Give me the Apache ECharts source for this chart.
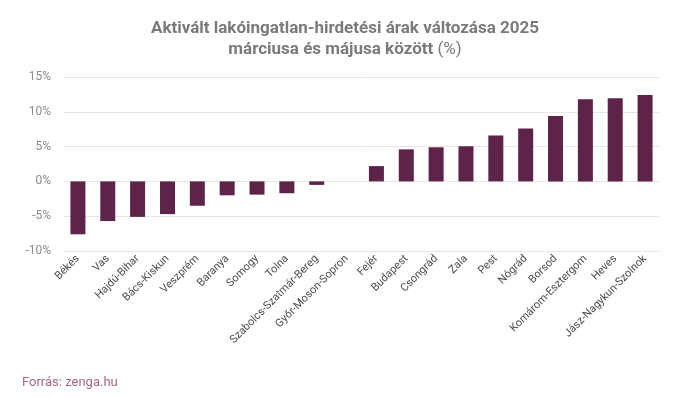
<!DOCTYPE html>
<html>
<head>
<meta charset="utf-8">
<script src="https://cdn.jsdelivr.net/npm/echarts@6/dist/echarts.min.js"></script>
<style>
  html, body { margin: 0; padding: 0; background: #fff; }
  #chart { width: 690px; height: 397px; }
</style>
</head>
<body>
<div id="chart"></div>
<script>
// megyék (kategóriák)
const counties = [
  'Békés', 'Vas', 'Hajdú-Bihar', 'Bács-Kiskun', 'Veszprém', 'Baranya', 'Somogy', 'Tolna',
  'Szabolcs-Szatmár-Bereg', 'Győr-Moson-Sopron', 'Fejér', 'Budapest', 'Csongrád', 'Zala',
  'Pest', 'Nógrád', 'Borsod', 'Komárom-Esztergom', 'Heves', 'Jász-Nagykun-Szolnok'
];
// árváltozás (%)
const changes = [
  -7.6, -5.7, -5.1, -4.7, -3.5, -2.0, -1.9, -1.7,
  -0.5, 0, 2.2, 4.6, 4.9, 5.05,
  6.6, 7.6, 9.4, 11.8, 11.95, 12.4
];
const yTicks = [-10, -5, 0, 5, 10, 15];

const chart = echarts.init(document.getElementById('chart'));
chart.setOption({
  animation: false,
  textStyle: { fontFamily: 'Roboto' },
  title: [
    {
      text: 'Aktivált lakóingatlan-hirdetési árak változása 2025\nmárciusa és májusa között {n|(%)}',
      left: 'center',
      top: 13,
      textStyle: {
        fontSize: 17,
        fontWeight: 'bold',
        color: '#7a7a7a',
        lineHeight: 21,
        align: 'center',
        rich: {
          n: { fontSize: 17, fontWeight: 'normal', color: '#7a7a7a' }
        }
      }
    },
    {
      text: 'Forrás: zenga.hu',
      left: 17,
      top: 371,
      textStyle: { fontSize: 13, fontWeight: 'normal', color: '#a56784' }
    }
  ],
  grid: { left: 63, right: 30, top: 77, bottom: 146 },
  xAxis: {
    type: 'category',
    data: counties,
    axisLine: { show: false },
    axisTick: { show: false },
    axisLabel: {
      interval: 0,
      rotate: 45,
      fontSize: 11,
      color: '#4a4a4a',
      margin: 6
    }
  },
  yAxis: {
    type: 'value',
    min: yTicks[0],
    max: yTicks[yTicks.length - 1],
    interval: 5,
    axisLine: { show: false },
    axisTick: { show: false },
    axisLabel: { formatter: '{value}%', fontSize: 12, color: '#8a8a8a', margin: 12 },
    splitLine: { lineStyle: { color: '#e6e6e6', width: 1 } }
  },
  series: [{
    type: 'bar',
    data: changes,
    barWidth: 15,
    itemStyle: { color: '#5e2349' }
  }]
});
</script>
</body>
</html>
